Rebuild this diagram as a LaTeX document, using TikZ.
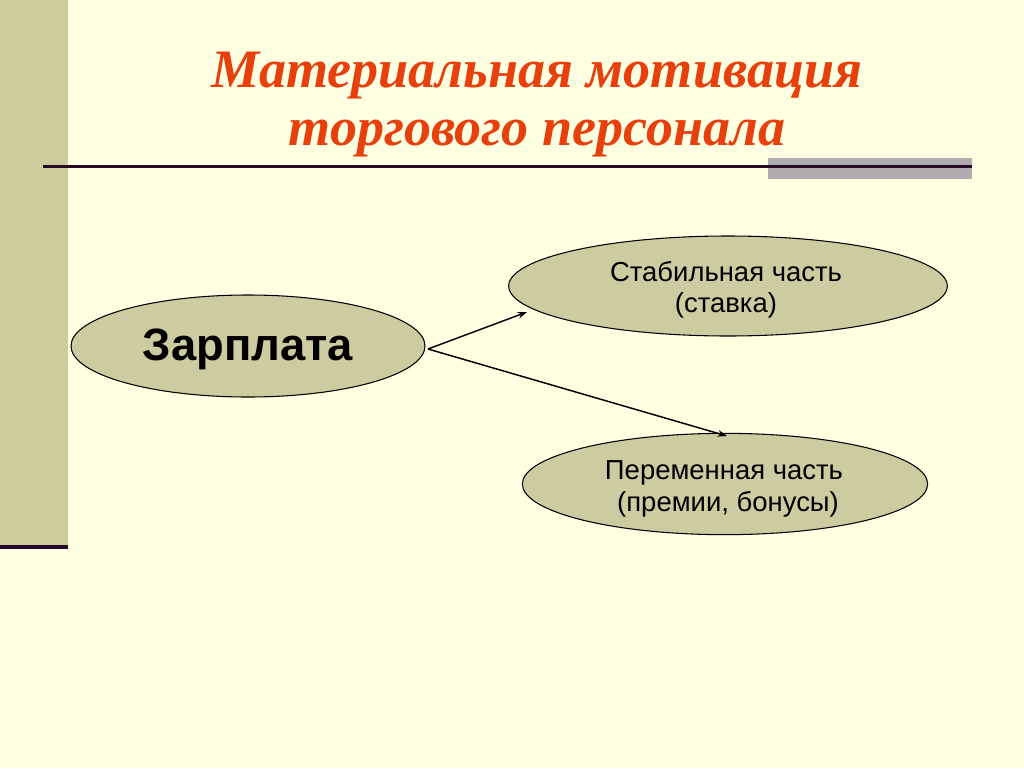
\documentclass[tikz,border=0pt]{standalone}
\usepackage{fontspec}
\setmainfont{Liberation Serif}
\setsansfont{Liberation Sans}
\usetikzlibrary{shapes.geometric,arrows.meta}
\definecolor{bg}{RGB}{255,255,226}
\definecolor{bar}{RGB}{204,204,156}
\definecolor{ellfill}{RGB}{204,204,160}
\definecolor{darkline}{RGB}{40,10,40}
\definecolor{greybar}{RGB}{176,172,176}
\definecolor{titlecol}{RGB}{232,64,12}
\tikzset{
  oval/.style={ellipse, draw=black, line width=0.8pt, fill=ellfill, inner sep=0pt},
  ovaltext/.style={align=center, inner sep=0pt, font=\sffamily\fontsize{20.6}{23.5}\selectfont},
  conn/.style={line width=1.1pt, -{Stealth[length=7pt,width=5pt]}}
}
\begin{document}
\begin{tikzpicture}[x=0.75pt,y=-0.75pt]
\fill[bg] (0,0) rectangle (1024,768);
\useasboundingbox (0,0) rectangle (1024,768);
% left bar
\fill[bar] (0,0) rectangle (68,545);
\fill[darkline] (0,545) rectangle (68,549);
% title rule
\fill[greybar] (768,158) rectangle (972,179);
\fill[darkline] (43,165) rectangle (972,168);
% title
\node[font=\bfseries\itshape\fontsize{40.6}{43.5}\selectfont, text=titlecol, align=center] (title) at (537,105) {Материальная мотивация\\торгового персонала};
% ellipses
\node[oval, minimum width=265.5pt, minimum height=76.5pt] (z) at (248,346) {};
\node[oval, minimum width=329pt, minimum height=75pt] (s) at (728,286) {};
\node[oval, minimum width=304pt, minimum height=76pt] (p) at (725,484) {};
\node[ovaltext, font=\sffamily\bfseries\fontsize{34}{36}\selectfont] (zt) at (248,349) {Зарплата};
\node[ovaltext] (st) at (726,290) {Стабильная часть\\(ставка)};
\node[ovaltext] (pt) at (724,489) {Переменная часть\\\hspace{6pt}(премии, бонусы)};
\coordinate (a1) at (527,312);
\coordinate (a2) at (727,436);
\coordinate (o) at (428,349);
\draw[conn] (o) -- (a1);
\draw[conn] (o) -- (a2);
\end{tikzpicture}
\end{document}
